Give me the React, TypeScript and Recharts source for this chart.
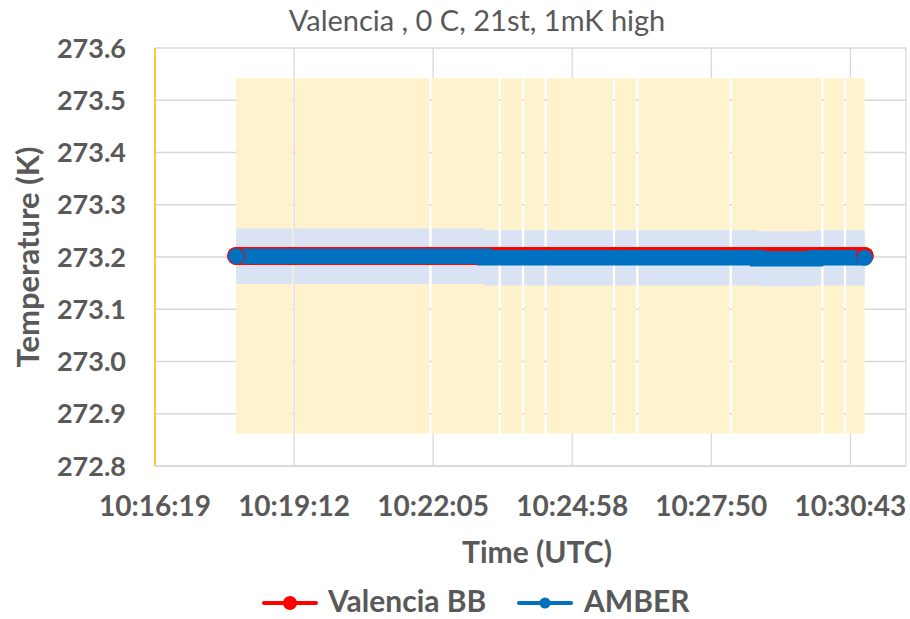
import React from "react";
import {
  ComposedChart,
  Area,
  Line,
  XAxis,
  YAxis,
  CartesianGrid,
  Legend,
} from "recharts";

// measurement runs (gaps between them show as white slits in the error bands)
const runs: [string, string][] = [
  ["10:18:00", "10:19:10"],
  ["10:19:13", "10:22:00"],
  ["10:22:03", "10:23:26"],
  ["10:23:29", "10:23:55"],
  ["10:23:58", "10:24:23"],
  ["10:24:26", "10:25:48"],
  ["10:25:51", "10:26:17"],
  ["10:26:20", "10:28:13"],
  ["10:28:16", "10:30:07"],
  ["10:30:10", "10:30:35"],
  ["10:30:38", "10:31:01"],
];

const bbValue = 273.202;
const bbUncertainty = 0.34;

const amberSteps = [
  { time: "10:18:00", value: 273.2015 },
  { time: "10:23:09", value: 273.1985 },
  { time: "10:28:48", value: 273.1965 },
  { time: "10:30:00", value: 273.1985 },
];
const amberUncertainty = 0.053;

const xTicks = [0.428, 0.43, 0.432, 0.434, 0.436, 0.438];
const yTicks = [272.8, 272.9, 273.0, 273.1, 273.2, 273.3, 273.4, 273.5, 273.6];

const FONT = "Lato, 'Open Sans', sans-serif";
const GREY = "#595959";

const toDay = (t: string) => {
  const [h, m, s] = t.split(":").map(Number);
  return (h * 3600 + m * 60 + s) / 86400;
};

const pad = (n: number) => String(n).padStart(2, "0");
const fmtTime = (d: number) => {
  const s = Math.round(d * 86400);
  return `${pad(Math.floor(s / 3600))}:${pad(Math.floor((s % 3600) / 60))}:${pad(s % 60)}`;
};

const amberAt = (d: number) => {
  let v = amberSteps[0].value;
  amberSteps.forEach((st) => {
    if (toDay(st.time) <= d) v = st.value;
  });
  return v;
};

type Row = {
  t: number;
  bb: number;
  amber: number;
  bbBand: [number, number] | null;
  amberBand: [number, number] | null;
};

const rows: Row[] = [];
runs.forEach(([a, b], i) => {
  const start = toDay(a);
  const end = toDay(b);
  if (i > 0) {
    const gap = (toDay(runs[i - 1][1]) + start) / 2;
    rows.push({ t: gap, bb: bbValue, amber: amberAt(gap), bbBand: null, amberBand: null });
  }
  const inner = amberSteps.map((s) => toDay(s.time)).filter((d) => d > start && d < end);
  [start, ...inner, end].forEach((d) => {
    const v = amberAt(d);
    rows.push({
      t: d,
      bb: bbValue,
      amber: v,
      bbBand: [bbValue - bbUncertainty, bbValue + bbUncertainty],
      amberBand: [v - amberUncertainty, v + amberUncertainty],
    });
  });
});

const endDot = (color: string, r: number) => (p: any) => {
  if (p.index === 0 || p.index === rows.length - 1) {
    return <circle key={`d-${p.index}`} cx={p.cx} cy={p.cy} r={r} fill={color} />;
  }
  return <g key={`d-${p.index}`} />;
};

const legendItems = [
  { name: "Valencia BB", color: "#FF0000", r: 7 },
  { name: "AMBER", color: "#0070C0", r: 5.5 },
];

// legend drawn as svg so the labels stay inside the chart box
function LegendContent() {
  return (
    <svg width={460} height={39} style={{ display: "block" }}>
      <line x1={2} x2={54} y1={24} y2={24} stroke={legendItems[0].color} strokeWidth={4} strokeLinecap="round" />
      <circle cx={28} cy={24} r={legendItems[0].r} fill={legendItems[0].color} />
      <text x={66} y={33} fill={GREY} fontFamily={FONT} fontWeight={700} fontSize={30}>
        {legendItems[0].name}
      </text>
      <line x1={257} x2={309} y1={24} y2={24} stroke={legendItems[1].color} strokeWidth={4} strokeLinecap="round" />
      <circle cx={283} cy={24} r={legendItems[1].r} fill={legendItems[1].color} />
      <text x={322} y={33} fill={GREY} fontFamily={FONT} fontWeight={700} fontSize={30}>
        {legendItems[1].name}
      </text>
    </svg>
  );
}

export default function App() {
  return (
    <div style={{ position: "fixed", left: 0, top: 0, width: 910, height: 619, background: "#fff" }}>
      <div
        style={{
          position: "absolute",
          left: 0,
          top: 3,
          width: 954,
          textAlign: "center",
          fontFamily: FONT,
          fontSize: 29,
          color: GREY,
          lineHeight: "34px",
        }}
      >
        Valencia , 0 C, 21st, 1mK high
      </div>
      <ComposedChart
        width={910}
        height={619}
        data={rows}
        margin={{ top: 48, right: 4, left: 0, bottom: 0 }}
      >
        <CartesianGrid stroke="#d9d9d9" strokeWidth={1.3} />
        <XAxis
          dataKey="t"
          type="number"
          scale="linear"
          domain={[0.428, 0.4388]}
          ticks={xTicks}
          interval={0}
          allowDataOverflow
          tickFormatter={fmtTime}
          axisLine={{ stroke: "#d9d9d9", strokeWidth: 1.3 }}
          tickLine={false}
          tickSize={0}
          tickMargin={30}
          height={153}
          tick={{ fill: GREY, fontSize: 28, fontWeight: 700, fontFamily: FONT }}
          label={{
            content: () => (
              <text
                x={537}
                y={563}
                textAnchor="middle"
                fill={GREY}
                fontFamily={FONT}
                fontWeight={700}
                fontSize={30}
              >
                Time (UTC)
              </text>
            ),
          }}
        />
        <YAxis
          type="number"
          domain={[272.8, 273.6]}
          ticks={yTicks}
          interval={0}
          allowDataOverflow
          tickFormatter={(v: number) => v.toFixed(1)}
          axisLine={{ stroke: "#FFC000", strokeWidth: 1.5 }}
          tickLine={false}
          tickSize={0}
          tickMargin={29}
          width={155}
          tick={{ fill: GREY, fontSize: 27, fontWeight: 700, fontFamily: FONT }}
          label={{
            content: () => (
              <text
                transform="translate(39,257) rotate(-90)"
                textAnchor="middle"
                fill={GREY}
                fontFamily={FONT}
                fontWeight={700}
                fontSize={31}
              >
                Temperature (K)
              </text>
            ),
          }}
        />
        <Area
          dataKey="bbBand"
          type="stepAfter"
          fill="#FFF2CC"
          fillOpacity={1}
          stroke="none"
          connectNulls={false}
          dot={false}
          activeDot={false}
          legendType="none"
          isAnimationActive={false}
        />
        <Area
          dataKey="amberBand"
          type="stepAfter"
          fill="#DAE3F3"
          fillOpacity={1}
          stroke="none"
          connectNulls={false}
          dot={false}
          activeDot={false}
          legendType="none"
          isAnimationActive={false}
        />
        <Line
          dataKey="bb"
          name="Valencia BB"
          type="stepAfter"
          stroke="#FF0000"
          strokeWidth={18}
          strokeLinecap="round"
          dot={endDot("#FF0000", 9)}
          activeDot={false}
          isAnimationActive={false}
        />
        <Line
          dataKey="amber"
          name="AMBER"
          type="stepAfter"
          stroke="#0070C0"
          strokeWidth={15.5}
          strokeLinecap="round"
          dot={endDot("#0070C0", 8)}
          activeDot={false}
          isAnimationActive={false}
        />
        <Legend
          layout="horizontal"
          verticalAlign="middle"
          align="center"
          wrapperStyle={{ top: 579, left: 262, width: 460, height: 39 }}
          content={() => <LegendContent />}
        />
      </ComposedChart>
    </div>
  );
}
